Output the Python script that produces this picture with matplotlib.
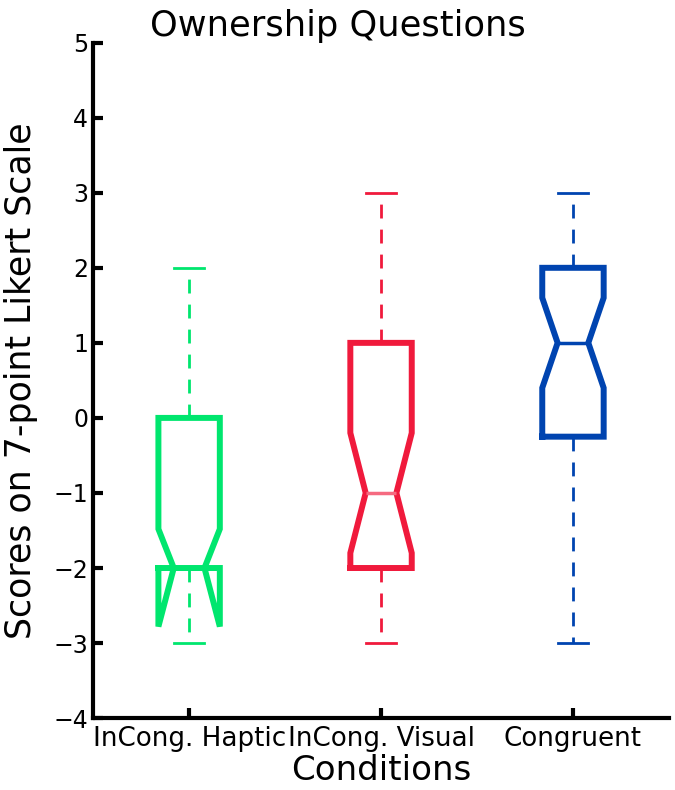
import matplotlib
matplotlib.use('Agg')
import matplotlib.pyplot as plt

conditions = ['InCong. Haptic', 'InCong. Visual', 'Congruent']
colors = ['#00E66E', '#F01A3C', '#0044B0']
median_colors = ['#00E66E', '#F56A80', '#0044B0']
whislo = [-3, -3, -3]
q1 = [-2, -2, -0.25]
med = [-2, -1, 1]
q3 = [0, 1, 2]
whishi = [2, 3, 3]
cilo = [-2.78, -1.8, 0.4]
cihi = [-1.48, -0.2, 1.6]

stats = []
for i in range(3):
    stats.append(dict(label=conditions[i], whislo=whislo[i], q1=q1[i], med=med[i],
                      q3=q3[i], whishi=whishi[i], cilo=cilo[i], cihi=cihi[i], fliers=[]))

fig = plt.figure(figsize=(6.75, 7.9), dpi=100)
ax = fig.add_axes([0.138, 0.091, 0.853, 0.855])

bp = ax.bxp(stats, positions=[1, 2, 3], widths=0.32, shownotches=True,
            showfliers=False, capwidths=0.16)

for i in range(3):
    c = colors[i]
    bp['boxes'][i].set(color=c, lw=4.3, solid_joinstyle='miter')
    bp['medians'][i].set(color=median_colors[i], lw=2.5)
    for w in bp['whiskers'][2*i:2*i+2]:
        w.set(color=c, lw=2, linestyle=(0, (5, 4)))
    for cp in bp['caps'][2*i:2*i+2]:
        cp.set(color=c, lw=2)

ax.set_xlim(0.5, 3.5)
ax.set_ylim(-4, 5)
ax.set_yticks(range(-4, 6))
ax.set_xticks([1, 2, 3])
ax.set_xticklabels(conditions)
for s in ['top', 'right']:
    ax.spines[s].set_visible(False)
for s in ['left', 'bottom']:
    ax.spines[s].set_linewidth(3)
ax.tick_params(direction='in', length=7, width=3, labelsize=17)
ax.tick_params(axis='x', labelsize=18.8, pad=6)

fig.text(0.5, 0.955, 'Ownership Questions', fontsize=25.4, ha='center', va='baseline')
ax.set_xlabel('Conditions', fontsize=24.5, labelpad=1)
ax.set_ylabel('Scores on 7-point Likert Scale', fontsize=25, labelpad=11)

fig.savefig('out.png', dpi=100)
